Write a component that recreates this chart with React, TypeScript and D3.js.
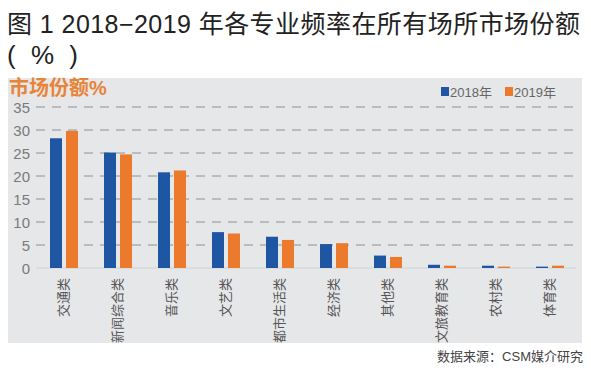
import React from "react";
import * as d3 from "d3";

// categories and series values
const categories = ["交通类", "新闻综合类", "音乐类", "文艺类", "都市生活类", "经济类", "其他类", "文旅教育类", "农村类", "体育类"];
const values2018 = [28.2, 25.1, 20.8, 7.8, 6.8, 5.2, 2.7, 0.7, 0.5, 0.3];
const values2019 = [29.8, 24.7, 21.2, 7.5, 6.1, 5.4, 2.4, 0.5, 0.3, 0.5];
const seriesNames = ["2018年", "2019年"];
const yTicks = [0, 5, 10, 15, 20, 25, 30, 35];

const colors = ["#1f56a3", "#ec7a2c"];
const font = "'Liberation Sans', 'Noto Sans CJK SC', sans-serif";

export default function App() {
  const width = 591;
  const height = 371;

  const x = d3.scaleBand<string>().domain(categories).range([36, 576]);
  const sub = d3.scaleBand<number>().domain([0, 1]).range([14, 42]).paddingInner(0.25);
  const y = d3.scaleLinear().domain([0, 35]).range([268, 107]);

  const series = [values2018, values2019];

  return (
    <div style={{ position: "absolute", left: 0, top: 0 }}>
      <svg width={width} height={height} style={{ display: "block", background: "#fff" }} fontFamily={font}>
        {/* title */}
        <text x={7} y={33} fontSize={25} fill="#222" textLength={573} lengthAdjust="spacing">图 1 2018−2019 年各专业频率在所有场所市场份额</text>
        <text x={7} y={64} fontSize={26} fill="#222" letterSpacing={4}>( % )</text>

        {/* panel */}
        <rect x={8} y={78} width={574} height={265} fill="#e6e7e9" />
        <text x={9} y={95} fontSize={20} fontWeight="bold" fill="#e8843a">市场份额%</text>

        {/* legend */}
        {seriesNames.map((name, i) => (
          <g key={name} transform={`translate(${441 + i * 64},0)`}>
            <rect x={0} y={87} width={8} height={9} fill={colors[i]} />
            <text x={9} y={96.5} fontSize={13} fill="#666">{name}</text>
          </g>
        ))}

        {/* gridlines */}
        {yTicks.filter(t => t > 0).map(t => (
          <line key={t} x1={36} x2={575} y1={y(t)} y2={y(t)} stroke="#8d9098" strokeWidth={1} strokeDasharray="9 7" />
        ))}
        <line x1={36} x2={576} y1={y(0)} y2={y(0)} stroke="#cfd1d5" strokeWidth={1} />

        {/* y tick labels */}
        {yTicks.map(t => (
          <text key={t} x={30} y={y(t) + 5.5} fontSize={15} fill="#7a7a7a" textAnchor="end">{t}</text>
        ))}

        {/* bars */}
        {categories.map((c, ci) => (
          <g key={c} transform={`translate(${x(c)},0)`}>
            {series.map((vals, si) => (
              <rect key={si} x={sub(si)} width={sub.bandwidth()} y={y(vals[ci])} height={y(0) - y(vals[ci])} fill={colors[si]} />
            ))}
          </g>
        ))}

        {/* category labels */}
        {categories.map(c => (
          <text key={c} transform={`translate(${(x(c) as number) + x.bandwidth() / 2 + 5},278) rotate(-90)`} fontSize={13} fill="#555" textAnchor="end">{c}</text>
        ))}

        {/* source */}
        <text x={583} y={361} fontSize={13} fill="#444" textAnchor="end">数据来源：CSM媒介研究</text>
      </svg>
    </div>
  );
}
